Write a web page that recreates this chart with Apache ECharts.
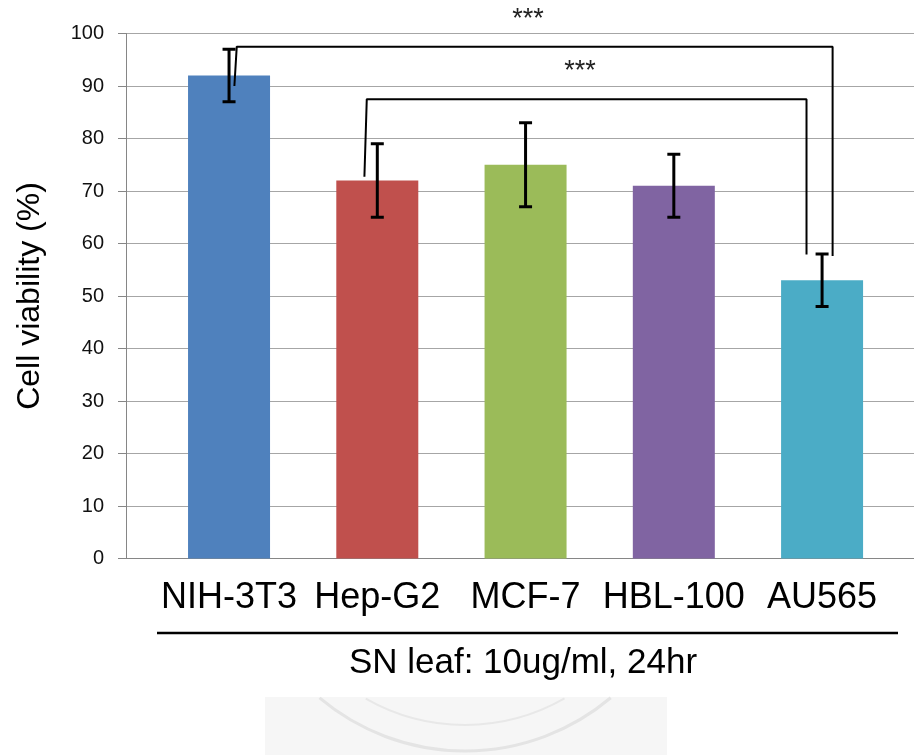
<!DOCTYPE html>
<html>
<head>
<meta charset="utf-8">
<script src="https://cdn.jsdelivr.net/npm/echarts@6/dist/echarts.min.js"></script>
<style>
  html, body { margin: 0; padding: 0; background: #fff; }
  #chart { width: 914px; height: 755px; }
</style>
</head>
<body>
<div id="chart"></div>
<script>
// cell lines and viability (%) with error range
const categories = ['NIH-3T3', 'Hep-G2', 'MCF-7', 'HBL-100', 'AU565']
const viability = [92, 72, 75, 71, 53]
const errLow = [87, 65, 67, 65, 48]
const errHigh = [97, 79, 83, 77, 58]
const barColors = ['#4F81BD', '#C0504D', '#9BBB59', '#8064A2', '#4BACC6']

// significance brackets, in [category index, value]
const bracketOuter = [[0.036, 90], [0.052, 97.5], [4.071, 97.5], [4.071, 57.6]]
const bracketInner = [[0.913, 72.7], [0.929, 87.5], [3.895, 87.5], [3.895, 57.9]]
const starMarks = [[2.017, 102.7, '***'], [2.368, 92.8, '***']]

const xLabel = 'SN leaf: 10ug/ml, 24hr'
const yLabel = 'Cell viability (%)'

const font = "'Liberation Sans', Arial, sans-serif"
const el = document.getElementById('chart')
const chart = echarts.init(el)

const option = {
  animation: false,
  textStyle: { fontFamily: font },
  grid: [
    { left: 126, right: 0, top: 33.5, bottom: 196.5 },
    { left: 154.9, right: 17.9, top: 33.5, bottom: 196.5 }
  ],
  xAxis: [
    {
      type: 'value',
      gridIndex: 0,
      min: -0.695,
      max: 4.62,
      axisLine: { show: true, onZero: false, lineStyle: { color: '#868686', width: 1 } },
      axisTick: { show: false },
      axisLabel: { show: false },
      splitLine: { show: false }
    },
    {
      type: 'category',
      gridIndex: 1,
      data: categories,
      axisLine: { show: false },
      axisTick: { show: false },
      axisLabel: {
        margin: 22,
        fontSize: 36,
        color: '#000',
        fontFamily: font,
        interval: 0
      }
    }
  ],
  yAxis: [
    {
      type: 'value',
      gridIndex: 0,
      min: 0,
      max: 100,
      interval: 10,
      name: yLabel,
      nameLocation: 'middle',
      nameGap: 80,
      nameTextStyle: { fontSize: 32, color: '#000', fontFamily: font },
      axisLine: { show: true, onZero: false, lineStyle: { color: '#868686', width: 1 } },
      axisTick: { show: true, length: 8, lineStyle: { color: '#868686' } },
      axisLabel: { margin: 22, fontSize: 20, color: '#111', fontFamily: font },
      splitLine: { show: true, lineStyle: { color: '#a6a6a6', width: 1 } }
    },
    {
      type: 'value',
      gridIndex: 1,
      min: 0,
      max: 100,
      show: false
    }
  ],
  series: [
    {
      type: 'bar',
      xAxisIndex: 0,
      yAxisIndex: 0,
      barWidth: 82,
      data: viability.map((v, i) => ({
        value: [i, v],
        itemStyle: { color: barColors[i] }
      }))
    },
    {
      type: 'custom',
      xAxisIndex: 0,
      yAxisIndex: 0,
      z: 5,
      data: categories.map((c, i) => [i, errLow[i], errHigh[i]]),
      renderItem: function (params, api) {
        const top = api.coord([api.value(0), api.value(2)])
        const bot = api.coord([api.value(0), api.value(1)])
        const hw = 6.5
        const style = { stroke: '#000', lineWidth: 3 }
        return {
          type: 'group',
          children: [
            { type: 'line', shape: { x1: top[0], y1: top[1], x2: bot[0], y2: bot[1] }, style },
            { type: 'line', shape: { x1: top[0] - hw, y1: top[1], x2: top[0] + hw, y2: top[1] }, style },
            { type: 'line', shape: { x1: bot[0] - hw, y1: bot[1], x2: bot[0] + hw, y2: bot[1] }, style }
          ]
        }
      }
    },
    {
      type: 'line',
      xAxisIndex: 0,
      yAxisIndex: 0,
      symbol: 'none',
      z: 6,
      lineStyle: { color: '#000', width: 2 },
      data: bracketOuter
    },
    {
      type: 'line',
      xAxisIndex: 0,
      yAxisIndex: 0,
      symbol: 'none',
      z: 6,
      lineStyle: { color: '#000', width: 2 },
      data: bracketInner
    }
  ]
}
chart.setOption(option)

// stars, placed through the axis scales
const starGraphics = starMarks.map(function (s) {
  const p = chart.convertToPixel({ gridIndex: 0 }, [s[0], s[1]])
  return {
    type: 'text',
    x: p[0],
    y: p[1],
    style: {
      text: s[2],
      fontSize: 27,
      fontFamily: font,
      fill: '#222',
      align: 'center',
      verticalAlign: 'middle'
    }
  }
})

chart.setOption({
  graphic: starGraphics.concat([
    {
      type: 'line',
      shape: { x1: 157, y1: 633, x2: 898, y2: 633 },
      style: { stroke: '#000', lineWidth: 2.5 }
    },
    {
      type: 'text',
      x: 523,
      y: 663,
      style: {
        text: xLabel,
        fontSize: 35,
        fontFamily: font,
        fill: '#000',
        align: 'center',
        verticalAlign: 'middle'
      }
    },
    // faint seal in the background strip
    {
      type: 'rect',
      z: -10,
      shape: { x: 265, y: 697, width: 402, height: 58 },
      style: { fill: '#f6f6f6' }
    },
    {
      type: 'arc',
      z: -9,
      shape: { cx: 465, cy: 525, r: 226, startAngle: 0.87, endAngle: 2.27 },
      style: { stroke: '#e4e4e4', lineWidth: 3, fill: null }
    },
    {
      type: 'arc',
      z: -9,
      shape: { cx: 465, cy: 525, r: 200, startAngle: 1.05, endAngle: 2.09 },
      style: { stroke: '#e8e8e8', lineWidth: 2, fill: null }
    }
  ])
})
</script>
</body>
</html>
